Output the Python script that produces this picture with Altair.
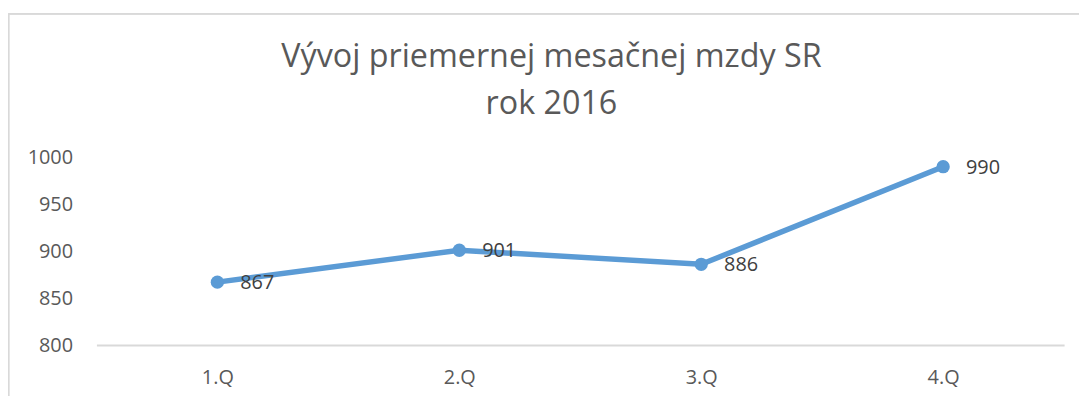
import altair as alt
import pandas as pd

quarters = ["1.Q", "2.Q", "3.Q", "4.Q"]
wages = [867, 901, 886, 990]
y_ticks = [800, 850, 900, 950, 1000]
title_line1 = "Vývoj priemernej mesačnej mzdy SR"
title_line2 = "rok 2016"

df = pd.DataFrame({"q": quarters, "w": wages})

FONT = "Open Sans"
BLUE = "#5b9bd5"
GRAY = "#595959"
BORDER = "#d9d9d9"

x = alt.X("q:N", sort=quarters, title=None,
          scale=alt.Scale(type="point", padding=0.5),
          axis=alt.Axis(labelAngle=0, ticks=False, domainColor=BORDER, domainWidth=2,
                        labelFont=FONT, labelFontSize=20, labelColor=GRAY, labelPadding=23,
                        grid=False))
y = alt.Y("w:Q", title=None,
          scale=alt.Scale(domain=[800, 1000], nice=False, zero=False),
          axis=alt.Axis(values=y_ticks, ticks=False, domain=False, grid=False, format="d",
                        labelFont=FONT, labelFontSize=20, labelColor=GRAY, labelPadding=24))

base = alt.Chart(df)
line = base.mark_line(color=BLUE, strokeWidth=5.5).encode(x=x, y=y)
pts = base.mark_circle(color=BLUE, size=180, opacity=1).encode(x=x, y=y)
labels = base.mark_text(align="left", baseline="middle", dx=23, dy=1, font=FONT,
                        fontSize=20, color="#404040").encode(x=x, y=y, text="w:Q")

border_left = alt.Chart(df).mark_rule(color=BORDER, strokeWidth=1.5).encode(
    x=alt.value(-88.5), y=alt.value(-144.5), y2=alt.value(260))
border_top = alt.Chart(df).mark_rule(color=BORDER, strokeWidth=1.5).encode(
    x=alt.value(-88.5), x2=alt.value(1000), y=alt.value(-144.5))

t1 = alt.Chart(pd.DataFrame({"t": [title_line1]})).mark_text(
    font=FONT, fontSize=32.5, color=GRAY, align="center", baseline="alphabetic"
).encode(text="t:N", x=alt.value(458), y=alt.value(-91))
t2 = alt.Chart(pd.DataFrame({"t": [title_line2]})).mark_text(
    font=FONT, fontSize=32.5, color=GRAY, align="center", baseline="alphabetic"
).encode(text="t:N", x=alt.value(458), y=alt.value(-44))

chart = alt.layer(border_left, border_top, t1, t2, line, pts, labels).properties(
    width=974, height=189,
    autosize=alt.AutoSizeParams(type="none"),
    padding={"left": 89, "top": 149, "right": 15, "bottom": 50},
).configure_view(stroke=None)

chart.save("out.html", embed_options={"renderer": "svg", "actions": False})
